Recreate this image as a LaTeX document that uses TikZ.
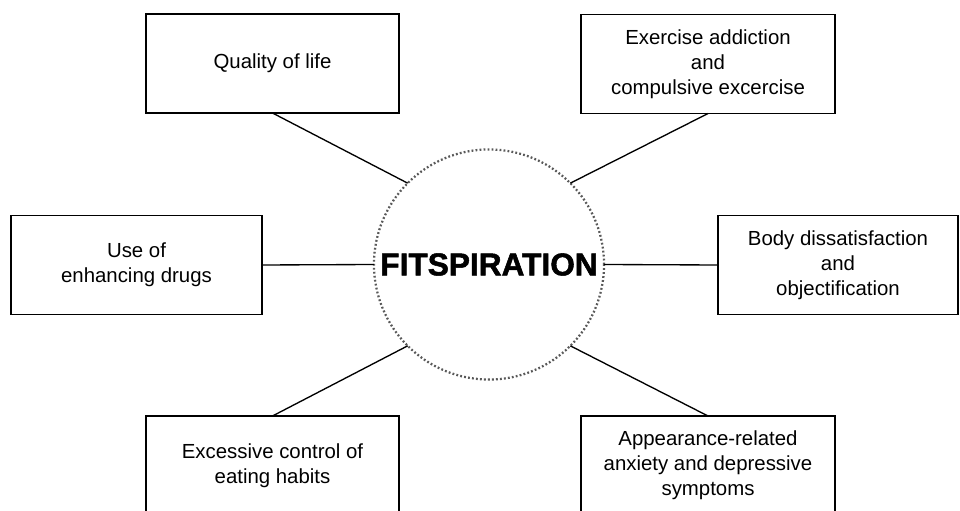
\documentclass[tikz,border=0pt]{standalone}
\usepackage{fontspec}
\setmainfont{Liberation Sans}
\newfontfamily\hubfont{Liberation Sans}[BoldFeatures={FakeBold=1.6}]
\tikzset{
  topic/.style={draw, line width=0.95pt, align=center, minimum height=2.475cm,
    inner sep=2pt, outer sep=0pt, font=\fontsize{14.5}{17.7}\selectfont},
  hubnode/.style={circle, draw=gray!70!black, line width=1.6pt,
    dash pattern=on 1.3pt off 1.55pt, minimum size=5.75cm, inner sep=0pt,
    outer sep=0pt, font=\hubfont\fontsize{22.5}{24}\selectfont\bfseries},
  link/.style={line width=0.95pt}
}
\begin{document}
\begin{tikzpicture}[x=0.025cm,y=-0.025cm]
  \useasboundingbox (0,0) rectangle (960,511);
  \node[hubnode] (hub) at (489,264.5) {FITSPIRATION};
  \node[topic, minimum width=6.325cm] (quality) at (272.5,63.5) {Quality of life};
  \node[topic, minimum width=6.35cm] (addiction) at (708,64) {Exercise addiction\\and\\compulsive excercise};
  \node[topic, minimum width=6.275cm] (drugs) at (136.5,265) {Use of\\enhancing drugs};
  \node[topic, minimum width=6cm] (body) at (838,265) {Body dissatisfaction\\and\\objectification};
  \node[topic, minimum width=6.325cm] (control) at (272.5,465.5) {Excessive control of\\eating habits};
  \node[topic, minimum width=6.35cm] (appearance) at (708,465.5) {Appearance-related\\anxiety and depressive\\symptoms};
  \draw[link] (quality.south) -- (hub.135);
  \draw[link] (addiction.south) -- (hub.45);
  \draw[link] (drugs.east) -- (hub.west);
  \draw[link] (body.west) -- (hub.east);
  \draw[link] (control.north) -- (hub.225);
  \draw[link] (appearance.north) -- (hub.315);
\end{tikzpicture}
\end{document}
